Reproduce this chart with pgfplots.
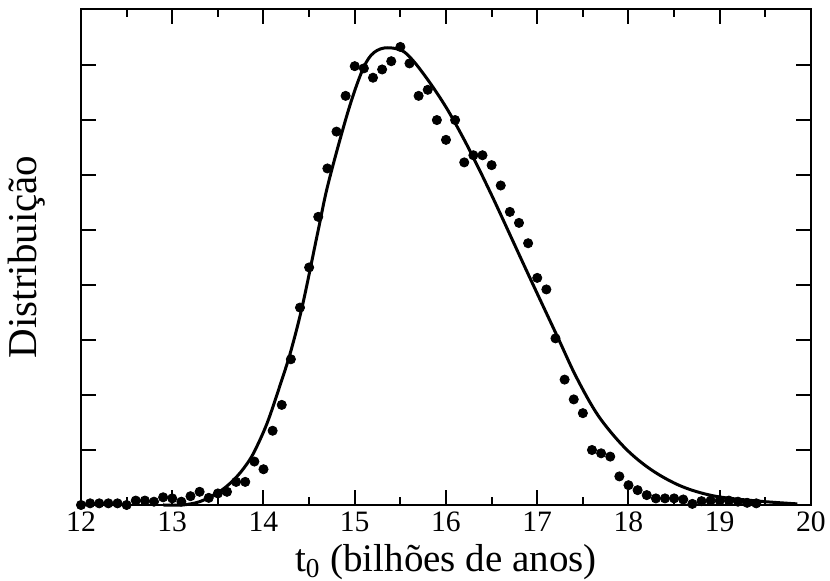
\documentclass[border=0pt]{standalone}
\usepackage{fontspec}
\setmainfont{Liberation Serif}
\usepackage{pgfplots}
\pgfplotsset{compat=1.18}

\begin{document}
\begin{tikzpicture}
\path[use as bounding box] (-40.5pt,-38pt) rectangle (374.5pt,252.5pt);
\begin{axis}[
  at={(0pt,0pt)}, anchor=south west,
  scale only axis, width=365pt, height=248pt,
  xmin=12, xmax=20, ymin=0, ymax=9.02,
  xtick={12,...,20}, minor xtick={12.5,13.5,...,19.5},
  ytick={1,...,8}, yticklabels={},
  tick align=inside,
  major tick length=7.3pt, minor tick length=4pt,
  every tick/.style={line width=1pt, black},
  axis line style={line width=1.2pt},
  /pgf/number format/assume math mode=true,
  ticklabel style={font=\fontsize{14.8}{16}\selectfont},
  xlabel={t\textsubscript{0} (bilhões de anos)},
  ylabel={Distribuição},
  xlabel style={at={(axis description cs:0.5,-0.1331)}, anchor=base, font=\fontsize{19.5}{22}\selectfont},
  ylabel style={at={(axis description cs:-0.0603,0.5)}, anchor=base, font=\fontsize{20.5}{22}\selectfont},
  clip=false,
]
% histogram of ages (dots)
\addplot[only marks, mark=*, mark size=2.3pt, black] coordinates {
(12.0,0.0) (12.1,0.03) (12.2,0.03) (12.3,0.03) (12.4,0.03) (12.5,0.0)
(12.6,0.08) (12.7,0.08) (12.8,0.06) (12.9,0.14) (13.0,0.12) (13.1,0.06)
(13.2,0.16) (13.3,0.24) (13.4,0.13) (13.5,0.21) (13.6,0.24) (13.7,0.42)
(13.8,0.42) (13.9,0.79) (14.0,0.65) (14.1,1.35) (14.2,1.82) (14.3,2.65)
(14.4,3.59) (14.5,4.32) (14.6,5.24) (14.7,6.12) (14.8,6.79) (14.9,7.44)
(15.0,7.98) (15.1,7.94) (15.2,7.77) (15.3,7.92) (15.4,8.07) (15.5,8.33)
(15.6,8.03) (15.7,7.44) (15.8,7.55) (15.9,7.0) (16.0,6.64) (16.1,7.0)
(16.2,6.23) (16.3,6.36) (16.4,6.36) (16.5,6.18) (16.6,5.81) (16.7,5.33)
(16.8,5.13) (16.9,4.76) (17.0,4.13) (17.1,3.92) (17.2,3.03) (17.3,2.28)
(17.4,1.92) (17.5,1.67) (17.6,1.0) (17.7,0.94) (17.8,0.88) (17.9,0.52)
(18.0,0.36) (18.1,0.27) (18.2,0.18) (18.3,0.12) (18.4,0.12) (18.5,0.12)
(18.6,0.1) (18.7,0.02) (18.8,0.07) (18.9,0.08) (19.0,0.08) (19.1,0.08)
(19.2,0.06) (19.3,0.04) (19.4,0.03)
};
% fitted distribution (solid curve)
\addplot[black, line width=1.5pt, smooth, tension=0.55] coordinates {
(12.9,0.0) (13.1,0.0) (13.2,0.02) (13.3,0.06) (13.42,0.15) (13.55,0.28)
(13.67,0.45) (13.78,0.66) (13.89,0.94) (14.04,1.49) (14.19,2.22) (14.3,2.8)
(14.43,3.65) (14.6,5.0) (14.71,5.85) (14.92,7.12) (15.07,7.85) (15.18,8.18)
(15.32,8.31) (15.51,8.27) (15.65,8.06) (15.84,7.64) (16.02,7.18) (16.2,6.64)
(16.35,6.15) (16.49,5.67) (16.6,5.28) (16.9,4.2) (17.23,3.03) (17.43,2.32)
(17.67,1.62) (17.96,1.04) (18.25,0.64) (18.58,0.34) (18.95,0.16) (19.43,0.07)
(19.85,0.02)
};
\end{axis}
\end{tikzpicture}
\end{document}
